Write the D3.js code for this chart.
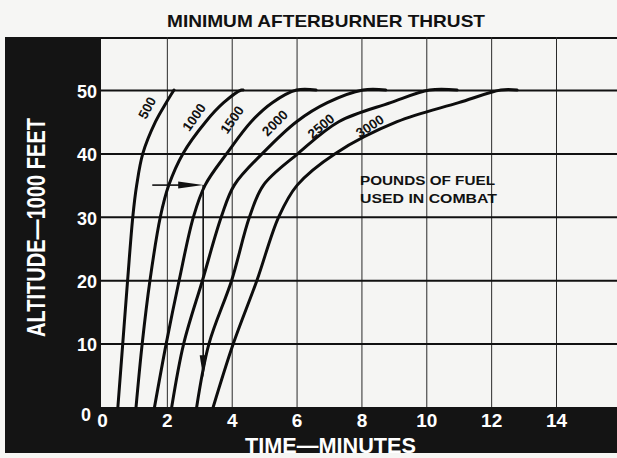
<!DOCTYPE html>
<html>
<head>
<meta charset="utf-8">
<script src="https://cdn.jsdelivr.net/npm/d3@7"></script>
<style>
  html, body { margin: 0; padding: 0; background: #f6f6f4; }
  svg { display: block; }
</style>
</head>
<body>
<svg id="chart" width="617" height="458"></svg>
<script>
// Climb profiles at minimum afterburner thrust: time (minutes) to reach each altitude
const fuelLabels = ["500", "1000", "1500", "2000", "2500", "3000"];
const altitudes  = [0, 10, 20, 30, 35, 40, 45, 48, 50];
const time500  = [0.49, 0.64, 0.79, 0.95, 1.07, 1.26, 1.65, 1.98, 2.22];
const time1000 = [1.05, 1.24, 1.48, 1.80, 2.06, 2.50, 3.20, 3.75, 4.30];
const time1500 = [1.62, 1.98, 2.38, 2.82, 3.18, 3.85, 4.60, 5.25, 6.00];
const time2000 = [2.15, 2.52, 3.10, 3.68, 4.08, 4.95, 6.00, 6.95, 8.05];
const time2500 = [2.92, 3.30, 4.00, 4.55, 4.98, 6.05, 7.30, 8.90, 10.10];
const time3000 = [3.43, 4.05, 4.78, 5.45, 6.02, 7.20, 9.10, 11.00, 12.30];
// minute at which each curve stops running along the 50,000 ft line
const levelOffEnd = [2.22, 4.35, 6.60, 8.75, 10.95, 12.80];
// where each fuel label sits (minutes, altitude) and its slant in degrees
const labelTime  = [1.39, 2.84, 4.01, 5.33, 6.75, 8.26];
const labelAlt   = [47.2, 45.7, 45.3, 44.8, 44.3, 44.3];
const labelAngle = [-62, -55, -55, -45, -40, -33];

const xTicks = [0, 2, 4, 6, 8, 10, 12, 14];
const yTicks = [0, 10, 20, 30, 40, 50];

// worked example: start at 35,000 ft, across to the 1500 lb curve, then down
const exampleAlt = 35, exampleFrom = 1.55, exampleTime = 3.12, exampleTo = 4.7;

const series = [time500, time1000, time1500, time2000, time2500, time3000];

const svg = d3.select("#chart");
const W = 617, H = 458;
const frame = { left: 101, right: 617, top: 37, bottom: 407 };

const x = d3.scaleLinear().domain([0, 14]).range([102, 556]);
const y = d3.scaleLinear().domain([0, 50]).range([407, 90]);

// dark mount behind the plot
svg.append("rect")
  .attr("x", 5).attr("y", frame.top)
  .attr("width", W - 5).attr("height", 453 - frame.top)
  .attr("fill", "#141414");

// plot paper
svg.append("rect")
  .attr("x", frame.left).attr("y", frame.top)
  .attr("width", frame.right - frame.left).attr("height", frame.bottom - frame.top)
  .attr("fill", "#f5f5f3");

// top border of the plot
svg.append("line")
  .attr("x1", frame.left).attr("x2", frame.right)
  .attr("y1", frame.top + 1).attr("y2", frame.top + 1)
  .attr("stroke", "#111").attr("stroke-width", 2);

// x axis: vertical grid and minute labels
const xAxis = d3.axisBottom(x)
  .tickValues(xTicks)
  .tickSize(-(frame.bottom - frame.top))
  .tickPadding(7)
  .tickFormat(d3.format("d"));
const gx = svg.append("g")
  .attr("transform", `translate(0,${frame.bottom})`)
  .call(xAxis);
gx.select(".domain").remove();
gx.selectAll(".tick line")
  .attr("stroke", "#2a2a2a").attr("stroke-width", 1)
  .filter(d => d === 0).remove();
gx.selectAll(".tick text")
  .attr("fill", "#fff")
  .attr("font-family", "'Liberation Sans', Arial, sans-serif")
  .attr("font-weight", "bold")
  .attr("font-size", 19);

// y axis: horizontal grid and altitude labels
const yAxis = d3.axisLeft(y)
  .tickValues(yTicks)
  .tickSize(-(frame.right - frame.left))
  .tickPadding(4)
  .tickFormat(d3.format("d"));
const gy = svg.append("g")
  .attr("transform", `translate(${frame.left},0)`)
  .call(yAxis);
gy.select(".domain").remove();
gy.selectAll(".tick line")
  .attr("stroke", "#111").attr("stroke-width", 2)
  .filter(d => d === 0).remove();
gy.selectAll(".tick text")
  .attr("fill", "#fff")
  .attr("font-family", "'Liberation Sans', Arial, sans-serif")
  .attr("font-weight", "bold")
  .attr("font-size", 18)
  .attr("dy", d => d === 0 ? "0.75em" : "0.4em")
  .attr("x", d => d === 0 ? -10 : -4);

// climb curves
const line = d3.line()
  .x(d => x(d[0]))
  .y(d => y(d[1]))
  .curve(d3.curveCatmullRom.alpha(0.5));

series.forEach((times, i) => {
  const pts = times.map((t, j) => [t, altitudes[j]]);
  if (levelOffEnd[i] > times[times.length - 1]) pts.push([levelOffEnd[i], 50]);
  svg.append("path")
    .attr("d", line(pts))
    .attr("fill", "none")
    .attr("stroke", "#0d0d0d")
    .attr("stroke-width", 3)
    .attr("stroke-linecap", "round");
});

// fuel labels along the curves
fuelLabels.forEach((lab, i) => {
  svg.append("text")
    .attr("transform", `translate(${x(labelTime[i])},${y(labelAlt[i])}) rotate(${labelAngle[i]})`)
    .attr("text-anchor", "middle")
    .attr("dy", "0.35em")
    .attr("font-family", "'Liberation Sans', Arial, sans-serif")
    .attr("font-weight", "bold")
    .attr("font-size", 13.5)
    .attr("fill", "#111")
    .text(lab);
});

// worked example arrows
const ex = svg.append("g").attr("stroke", "#111").attr("fill", "#111");
ex.append("line")
  .attr("x1", x(exampleFrom)).attr("x2", x(exampleTime) - 20)
  .attr("y1", y(exampleAlt)).attr("y2", y(exampleAlt))
  .attr("stroke-width", 1.6);
ex.append("path")
  .attr("d", `M${x(exampleTime)},${y(exampleAlt)} l-25,-3.5 l0,7 z`)
  .attr("stroke", "none");
ex.append("line")
  .attr("x1", x(exampleTime)).attr("x2", x(exampleTime))
  .attr("y1", y(exampleAlt)).attr("y2", y(exampleTo) - 18)
  .attr("stroke-width", 1.6);
ex.append("path")
  .attr("d", `M${x(exampleTime)},${y(exampleTo)} l-3.5,-22 l7,0 z`)
  .attr("stroke", "none");

// legend note
const note = svg.append("g")
  .attr("font-family", "'Liberation Sans', Arial, sans-serif")
  .attr("font-weight", "bold")
  .attr("font-size", 13)
  .attr("fill", "#111");
note.append("text").attr("x", 360).attr("y", 185)
  .attr("textLength", 135).attr("lengthAdjust", "spacingAndGlyphs")
  .text("POUNDS OF FUEL");
note.append("text").attr("x", 360).attr("y", 203)
  .attr("textLength", 137).attr("lengthAdjust", "spacingAndGlyphs")
  .text("USED IN COMBAT");

// title
svg.append("text")
  .attr("x", 167).attr("y", 27)
  .attr("textLength", 318).attr("lengthAdjust", "spacingAndGlyphs")
  .attr("font-family", "'Liberation Sans', Arial, sans-serif")
  .attr("font-weight", "bold")
  .attr("font-size", 17)
  .attr("fill", "#111")
  .text("MINIMUM AFTERBURNER THRUST");

// axis titles
svg.append("text")
  .attr("x", 245).attr("y", 453)
  .attr("textLength", 171).attr("lengthAdjust", "spacingAndGlyphs")
  .attr("font-family", "'Liberation Sans', Arial, sans-serif")
  .attr("font-weight", "bold")
  .attr("font-size", 22)
  .attr("fill", "#fff")
  .text("TIME—MINUTES");

svg.append("text")
  .attr("transform", "translate(45,337) rotate(-90)")
  .attr("textLength", 219).attr("lengthAdjust", "spacingAndGlyphs")
  .attr("font-family", "'Liberation Sans', Arial, sans-serif")
  .attr("font-weight", "bold")
  .attr("font-size", 26)
  .attr("fill", "#fff")
  .text("ALTITUDE—1000 FEET");
</script>
</body>
</html>
